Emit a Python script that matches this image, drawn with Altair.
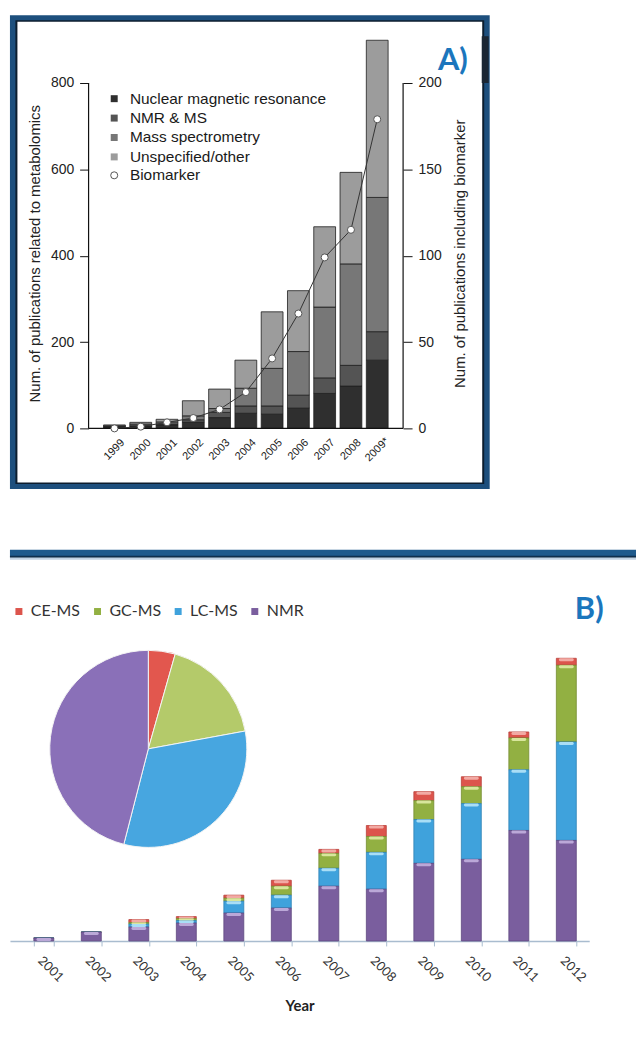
import altair as alt
import pandas as pd

FONT_A = "Liberation Sans"
FONT_B = "Lato"
BLUE_LABEL = "#1b76bd"

# ---------------- Panel A: metabolomics publications 1999-2009 ----------------
years_a = ["1999", "2000", "2001", "2002", "2003", "2004", "2005", "2006", "2007", "2008", "2009*"]
platforms_a = ["Nuclear magnetic resonance", "NMR & MS", "Mass spectrometry", "Unspecified/other"]
nmr_a = [3, 5, 8, 14, 25, 35, 33, 47, 81, 98, 158]
nmr_ms_a = [1, 1, 2, 6, 12, 17, 19, 30, 36, 48, 66]
ms_a = [2, 4, 5, 9, 9, 41, 87, 101, 164, 235, 311]
other_a = [2, 4, 6, 35, 45, 65, 131, 141, 186, 212, 364]
biomarker_a = [0, 1, 3.5, 6, 11, 21, 40.5, 66.5, 99, 115, 179]
greys_a = ["#2f2f2f", "#545454", "#777777", "#9c9c9c"]
left_ticks = [0, 200, 400, 600, 800]
right_ticks = [0, 50, 100, 150, 200]

# ---------------- Panel B: publications per analytical platform 2001-2012 ----------------
years_b = ["2001", "2002", "2003", "2004", "2005", "2006", "2007", "2008", "2009", "2010", "2011", "2012"]
platforms_b = ["CE-MS", "GC-MS", "LC-MS", "NMR"]
ce_b = [0, 0, 3, 2, 3, 6, 4, 11, 9, 10, 6, 7]
gc_b = [0, 0, 1.5, 2, 3, 9, 15, 16, 19, 17, 32, 77]
lc_b = [0, 0, 3, 2.5, 12, 13, 18, 37, 44, 56, 61, 99]
nmr_b = [3, 9, 14, 18, 28, 33, 55, 52, 78, 82, 111, 101]
share_b = [4.4, 17.7, 31.9, 46.0]
bar_colors_b = ["#dc544c", "#92b042", "#3fa2dc", "#7a5e9e"]
edge_colors_b = ["#b8403a", "#748c30", "#2f82b4", "#5f4880"]
cap_colors_b = ["#f2aaa4", "#d8e69c", "#a9def6", "#bba8d8"]
pie_colors_b = ["#e2574e", "#b4ca6a", "#47a6e0", "#8a70b8"]
stack_rank_b = {"NMR": 0, "LC-MS": 1, "GC-MS": 2, "CE-MS": 3}

# ---------------- tables ----------------
rows_a = []
for i, yr in enumerate(years_a):
    for rank, (p, vals) in enumerate(zip(platforms_a, [nmr_a, nmr_ms_a, ms_a, other_a])):
        rows_a.append({"year": yr, "platform": p, "count": vals[i], "rank": rank})
df_a = pd.DataFrame(rows_a)
df_bio = pd.DataFrame({"year": years_a, "biomarker": biomarker_a, "series": "Biomarker"})

rows_b = []
for i, yr in enumerate(years_b):
    for p, vals in zip(platforms_b, [ce_b, gc_b, lc_b, nmr_b]):
        rows_b.append({"year": yr, "platform": p, "count": vals[i], "rank": stack_rank_b[p]})
df_b = pd.DataFrame(rows_b)
df_pie = pd.DataFrame({"platform": platforms_b, "share": share_b, "rank": [0, 1, 2, 3]})
one = pd.DataFrame({"k": [0]})


def box(x1, x2, y1, y2, fill):
    """Plain filled rectangle in view pixels (frame and rule decorations)."""
    return alt.Chart(one).mark_rect(fill=fill, strokeWidth=0).encode(
        x=alt.value(x1), x2=alt.value(x2), y=alt.value(y1), y2=alt.value(y2))


# ---------------- Panel A ----------------
W_A, H_A = 474, 419
AX_IN = 79                        # inset of both y axes from the view edges
PLOT_H = 347                      # pixel height of the 0-800 span
Y_LEFT_MAX = 800 * H_A / PLOT_H
Y_RIGHT_MAX = 200 * H_A / PLOT_H

# empty slots either side keep the year bands between the two y axes
slots_a = ["_l3", "_l2", "_l1"] + years_a + ["_r1", "_r2", "_r3"]

x_a = alt.X(
    "year:N",
    scale=alt.Scale(domain=slots_a, paddingInner=0.17, paddingOuter=0.5625, align=0.5),
    axis=alt.Axis(values=years_a, title=None, labelAngle=-45, labelAlign="center",
                  labelBaseline="middle", labelPadding=21, ticks=False, tickSize=0,
                  domain=False, grid=False, labelFontSize=11, labelFont=FONT_A, labelColor="#222",
                  zindex=1),
)

bars_a = alt.Chart(df_a).mark_bar(stroke="#1e1e1e", strokeWidth=0.8).encode(
    x=x_a,
    y=alt.Y("count:Q", stack="zero",
            scale=alt.Scale(domain=[0, Y_LEFT_MAX], nice=False, zero=True),
            axis=alt.Axis(values=left_ticks, orient="left", offset=-AX_IN, domain=False, grid=False,
                          tickSize=9, tickColor="#111", labelFontSize=14, labelPadding=6,
                          labelFont=FONT_A, labelColor="#222", zindex=1,
                          title="Num. of publications related to metabolomics",
                          titleFont=FONT_A, titleFontSize=15, titleFontWeight="normal",
                          titleColor="#222", titleAngle=270, titleAlign="center",
                          titleBaseline="middle", titleX=-54, titleY=243)),
    color=alt.Color("platform:N", scale=alt.Scale(domain=platforms_a, range=greys_a),
                    legend=alt.Legend(title=None, orient="none", legendX=97, legendY=80,
                                      symbolType="square", symbolSize=49, symbolStrokeWidth=0,
                                      labelFontSize=15.5, labelFont=FONT_A, labelColor="#1a1a1a",
                                      labelLimit=0, rowPadding=2.5, labelOffset=8, padding=0)),
    order=alt.Order("rank:Q", sort="ascending"),
)

left_line = alt.Chart(one).mark_rule(color="#111", strokeWidth=1.2).encode(
    x=alt.value(AX_IN), y=alt.datum(0), y2=alt.datum(800))
base_line = alt.Chart(one).mark_rule(color="#111", strokeWidth=1.2).encode(
    x=alt.value(AX_IN), x2=alt.value(W_A - AX_IN), y=alt.datum(0))
left_layer = alt.layer(bars_a, left_line, base_line)

y_right = alt.Y("biomarker:Q",
                scale=alt.Scale(domain=[0, Y_RIGHT_MAX], nice=False, zero=True),
                axis=alt.Axis(values=right_ticks, orient="right", offset=-AX_IN, domain=False,
                              grid=False, tickSize=9, tickColor="#111", labelFontSize=14,
                              labelPadding=6, labelFont=FONT_A, labelColor="#222", zindex=1,
                              title="Num. of publications including biomarker", titleAngle=270,
                              titleAlign="center", titleBaseline="middle", titleX=57, titleY=243,
                              titleFont=FONT_A, titleFontSize=15, titleFontWeight="normal",
                              titleColor="#222"))
bio_line = alt.Chart(df_bio).mark_line(color="#333", strokeWidth=1).encode(x=x_a, y=y_right)
bio_pts = alt.Chart(df_bio).mark_point(shape="circle", filled=False, fill="white", strokeWidth=1,
                                       size=50, opacity=1).encode(
    x=x_a, y=y_right,
    stroke=alt.Stroke("series:N", scale=alt.Scale(domain=["Biomarker"], range=["#555555"]),
                      legend=alt.Legend(title=None, orient="none", legendX=97, legendY=157,
                                        symbolType="circle", symbolSize=50, symbolFillColor="white",
                                        symbolStrokeWidth=1, labelFontSize=15.5, labelFont=FONT_A,
                                        labelColor="#1a1a1a", labelLimit=0, labelOffset=8,
                                        padding=0)),
)
right_line = alt.Chart(one).mark_rule(color="#111", strokeWidth=1.2).encode(
    x=alt.value(W_A - AX_IN), y=alt.datum(0), y2=alt.datum(200))
right_layer = alt.layer(bio_line, bio_pts, right_line)

# bevelled blue frame around panel A
frame_blue = box(0, 482, 4, 480, "#1d4f7d")
frame_dark = box(5.5, 476.5, 9, 475, "#0c1d2e")
frame_white = box(7.5, 474.5, 10.5, 473.5, "white")
edge_mark = box(474, 481, 25, 72, "#1b2633")
label_a = alt.Chart(pd.DataFrame({"t": ["A)"]})).mark_text(
    font=FONT_B, fontSize=31, fontWeight="bold", color=BLUE_LABEL, align="center", baseline="middle"
).encode(text="t:N", x=alt.value(445), y=alt.value(50))

panel_a = alt.layer(frame_blue, frame_dark, frame_white, left_layer, right_layer, edge_mark,
                    label_a).resolve_scale(y="independent").properties(width=W_A, height=H_A)

# ---------------- Panel B ----------------
W_B, H_B = 582, 400

x_b = alt.X(
    "year:N",
    scale=alt.Scale(domain=years_b, paddingInner=0.58, paddingOuter=0.3876, align=0.649),
    axis=alt.Axis(title="Year", tickBand="extent", ticks=True, tickSize=5, tickColor="#a9bccf",
                  domainColor="#a9bccf", domainWidth=1.5, grid=False, labelAngle=45,
                  labelFontSize=13, labelFont=FONT_B, labelColor="#333", labelPadding=8,
                  titleFont=FONT_B, titleFontSize=15, titleFontWeight="bold", titleColor="#222",
                  titlePadding=14),
)
y_scale_b = alt.Scale(domain=[0, H_B], nice=False, zero=True)

stacked_b = alt.Chart(df_b).transform_stack(
    stack="count", groupby=["year"], sort=[alt.SortField("rank", order="ascending")], as_=["y0", "y1"])

bars_b = stacked_b.mark_bar(strokeWidth=0.8).encode(
    x=x_b,
    y=alt.Y("y0:Q", scale=y_scale_b, axis=None),
    y2="y1:Q",
    color=alt.Color("platform:N", scale=alt.Scale(domain=platforms_b, range=bar_colors_b),
                    legend=alt.Legend(title=None, orient="none", direction="horizontal", columns=4,
                                      legendX=1, legendY=61, symbolType="square", symbolSize=49,
                                      symbolStrokeWidth=0, labelFontSize=16, labelFont=FONT_B,
                                      labelColor="#333", columnPadding=9, labelOffset=4, padding=0)),
    stroke=alt.Stroke("platform:N", scale=alt.Scale(domain=platforms_b, range=edge_colors_b), legend=None),
)

caps_b = stacked_b.transform_filter("datum.count > 0").transform_calculate(
    cap="max(datum.y0, datum.y1 - 3)"
).mark_bar(width=15, cornerRadius=1.5).encode(
    x=x_b,
    y=alt.Y("y1:Q", scale=y_scale_b, axis=None),
    y2="cap:Q",
    color=alt.Color("platform:N", scale=alt.Scale(domain=platforms_b, range=cap_colors_b), legend=None),
)

pie_b = alt.Chart(df_pie).mark_arc(outerRadius=99, stroke="#f4f4f4", strokeWidth=1).encode(
    theta=alt.Theta("share:Q"),
    color=alt.Color("platform:N", scale=alt.Scale(domain=platforms_b, range=pie_colors_b), legend=None),
    order=alt.Order("rank:Q", sort="ascending"),
    x=alt.value(139), y=alt.value(207),
)

sep_main = box(0, 629, 7, 14, "#1f5a8c")
sep_dark = box(0, 629, 13, 15, "#0f2f4d")
sep_light = box(0, 629, 15, 17, "#c2d2e2")
label_b = alt.Chart(pd.DataFrame({"t": ["B)"]})).mark_text(
    font=FONT_B, fontSize=31, fontWeight="bold", color=BLUE_LABEL, align="center", baseline="middle"
).encode(text="t:N", x=alt.value(582), y=alt.value(68))

panel_b = alt.layer(sep_main, sep_dark, sep_light, bars_b, caps_b, pie_b, label_b).resolve_scale(
    color="independent", stroke="independent").properties(width=W_B, height=H_B)

chart = alt.vconcat(panel_a, panel_b, spacing=115, bounds="flush").resolve_scale(
    color="independent", shape="independent", stroke="independent"
).properties(
    padding={"top": 8, "left": 0, "right": 0, "bottom": 0}, background="white"
).configure_view(stroke="transparent")

chart.save("out.html", embed_options={"renderer": "svg", "actions": False})
